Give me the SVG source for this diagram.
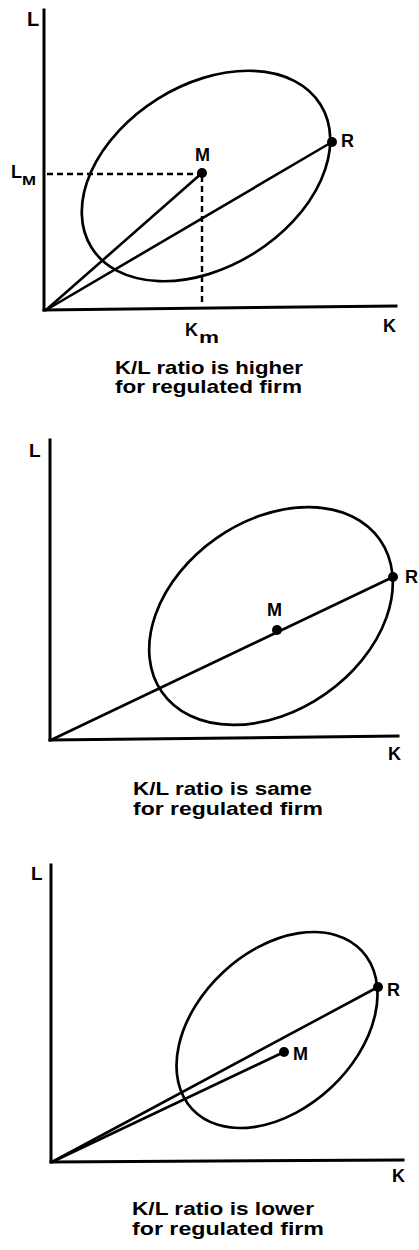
<svg xmlns="http://www.w3.org/2000/svg" width="419" height="1250" viewBox="0 0 419 1250">
<style>
.ax{stroke:#000;stroke-width:3;fill:none;stroke-linecap:square}
.ln{stroke:#000;stroke-width:2.6;fill:none;stroke-linecap:round}
.el{stroke:#000;stroke-width:2.7;fill:none}
.dash{stroke:#000;stroke-width:2.4;fill:none;stroke-dasharray:6 4}
.dot{fill:#000}
text{font-family:"Liberation Sans",Arial,sans-serif;fill:#000;font-weight:bold}
.lab{font-size:18px}
.sub{font-size:13px}
.cap{font-size:19px}
</style>
<rect width="419" height="1250" fill="#fff"/>

<!-- Panel 1 -->
<g id="panel1-axes">
<line class="ax" x1="44" y1="10" x2="44" y2="310"/>
<line class="ax" x1="44" y1="310" x2="396" y2="306"/>
<text class="lab" x="27" y="26" style="font-size:20px">L</text>
<text class="lab" x="383" y="332">K</text>
</g>
<g id="panel1-ellipse">
<ellipse class="el" cx="206" cy="176" rx="135" ry="91" transform="rotate(-32 206 176)"/>
</g>
<g id="panel1-connectors">
<line class="ln" x1="46" y1="310" x2="202" y2="173"/>
<line class="ln" x1="46" y1="310" x2="332" y2="142"/>
<line class="dash" x1="47" y1="174" x2="200" y2="174"/>
<line class="dash" x1="202" y1="176" x2="202" y2="306"/>
</g>
<g id="panel1-M">
<circle class="dot" cx="202" cy="173" r="5"/>
<text class="lab" x="195" y="161">M</text>
</g>
<g id="panel1-R">
<circle class="dot" cx="332" cy="142" r="5"/>
<text class="lab" x="341" y="147">R</text>
</g>
<g id="panel1-LM">
<text class="lab" x="11" y="178">L</text>
<text class="sub" x="22" y="185" textLength="14" lengthAdjust="spacingAndGlyphs">M</text>
</g>
<g id="panel1-Km">
<text class="lab" x="185" y="336">K</text>
<text class="sub" x="199" y="343" style="font-size:16px" textLength="20" lengthAdjust="spacingAndGlyphs">m</text>
</g>
<g id="panel1-caption">
<text class="cap" x="115" y="374" textLength="188" lengthAdjust="spacingAndGlyphs">K/L ratio is higher</text>
<text class="cap" x="115" y="393" textLength="187" lengthAdjust="spacingAndGlyphs">for regulated firm</text>
</g>

<!-- Panel 2 -->
<g id="panel2-axes">
<line class="ax" x1="50" y1="440" x2="50" y2="740"/>
<line class="ax" x1="50" y1="740" x2="398" y2="736"/>
<text class="lab" x="29" y="457" style="font-size:19px">L</text>
<text class="lab" x="388" y="760">K</text>
</g>
<g id="panel2-ellipse">
<ellipse class="el" cx="271" cy="616" rx="133" ry="95" transform="rotate(-35 271 616)"/>
</g>
<g id="panel2-connectors">
<line class="ln" x1="51" y1="740" x2="393" y2="577"/>
</g>
<g id="panel2-M">
<circle class="dot" cx="277" cy="630" r="5"/>
<text class="lab" x="267" y="616">M</text>
</g>
<g id="panel2-R">
<circle class="dot" cx="393" cy="577" r="5"/>
<text class="lab" x="405" y="583">R</text>
</g>
<g id="panel2-caption">
<text class="cap" x="133" y="795" textLength="179" lengthAdjust="spacingAndGlyphs">K/L ratio is same</text>
<text class="cap" x="133" y="815" textLength="190" lengthAdjust="spacingAndGlyphs">for regulated firm</text>
</g>

<!-- Panel 3 -->
<g id="panel3-axes">
<line class="ax" x1="51" y1="865" x2="51" y2="1162"/>
<line class="ax" x1="51" y1="1162" x2="403" y2="1160"/>
<text class="lab" x="31" y="880" style="font-size:19px">L</text>
<text class="lab" x="392" y="1182">K</text>
</g>
<g id="panel3-ellipse">
<ellipse class="el" cx="277" cy="1030" rx="116" ry="79" transform="rotate(-43 277 1030)"/>
</g>
<g id="panel3-connectors">
<line class="ln" x1="52" y1="1162" x2="378" y2="987"/>
<line class="ln" x1="52" y1="1162" x2="284" y2="1052"/>
</g>
<g id="panel3-M">
<circle class="dot" cx="284" cy="1052" r="5"/>
<text class="lab" x="293" y="1060">M</text>
</g>
<g id="panel3-R">
<circle class="dot" cx="378" cy="987" r="5"/>
<text class="lab" x="387" y="996">R</text>
</g>
<g id="panel3-caption">
<text class="cap" x="132" y="1215" textLength="182" lengthAdjust="spacingAndGlyphs">K/L ratio is lower</text>
<text class="cap" x="132" y="1235" textLength="192" lengthAdjust="spacingAndGlyphs">for regulated firm</text>
</g>
</svg>
